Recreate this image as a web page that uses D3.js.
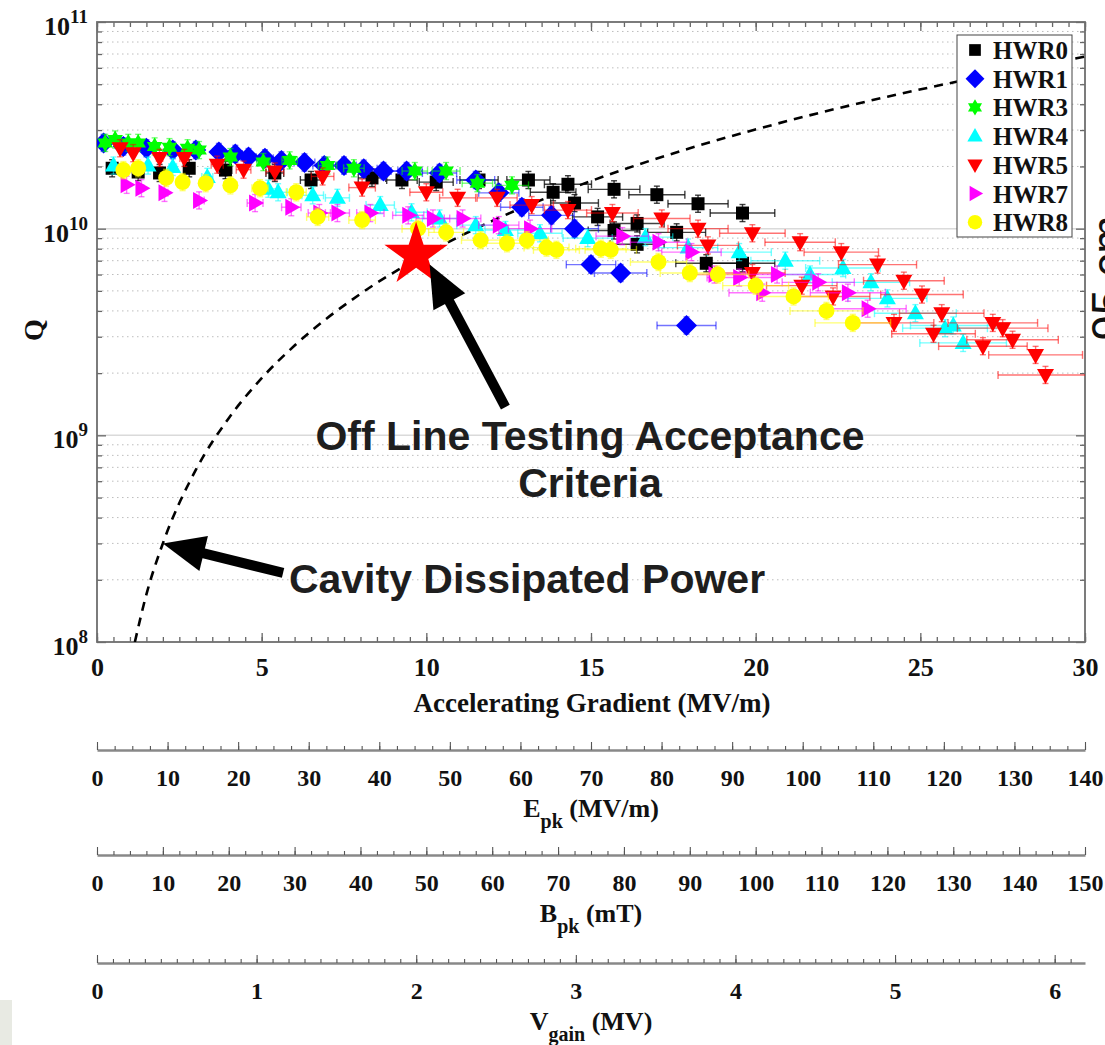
<!DOCTYPE html>
<html><head><meta charset="utf-8">
<script src="https://cdn.jsdelivr.net/npm/d3@7"></script>
<style>body{margin:0;background:#fff}svg{display:block}</style>
</head><body><svg id="c" width="1105" height="1045"></svg>
<script>
// ---------------- DATA ----------------
const seriesNames  = ["HWR0","HWR1","HWR3","HWR4","HWR5","HWR7","HWR8"];
const seriesColors = ["#000000","#0000ff","#00ff00","#00ffff","#ff0000","#ff00ff","#ffff00"];
const seriesShapes = ["square","diamond","hexagram","triUp","triDown","triRight","circle"];

const hwr0E = [0.46,1.25,1.9,2.8,3.9,5.4,6.5,8.35,9.26,10.3,11.6,13.1,13.85,14.3,14.5,15.2,15.7,15.7,16.4,16.4,17.0,17.6,18.25,18.5,19.6,19.6];
const hwr0Q = [1.96e10,1.88e10,1.86e10,1.96e10,1.92e10,1.86e10,1.72e10,1.76e10,1.72e10,1.68e10,1.72e10,1.72e10,1.5e10,1.64e10,1.33e10,1.14e10,1.55e10,9.8e9,1.06e10,8.4e9,1.46e10,9.6e9,1.32e10,6.8e9,1.19e10,6.8e9];

const hwr1E = [0.2,0.8,1.5,2.3,3.0,3.7,4.2,4.6,5.1,5.6,6.3,6.9,7.5,8.1,8.7,9.4,10.4,11.5,12.2,12.9,13.8,14.5,15.0,15.9,17.9];
const hwr1Q = [2.6e10,2.5e10,2.45e10,2.4e10,2.4e10,2.35e10,2.3e10,2.22e10,2.19e10,2.14e10,2.09e10,2.02e10,2.02e10,1.95e10,1.9e10,1.9e10,1.86e10,1.72e10,1.49e10,1.27e10,1.16e10,1.0e10,6.7e9,6.1e9,3.4e9];

const hwr3E = [0.25,0.55,0.95,1.25,1.75,2.2,2.75,3.1,4.05,5.05,5.85,7.0,7.8,9.65,10.6,11.55,12.6];
const hwr3Q = [2.6e10,2.7e10,2.6e10,2.6e10,2.5e10,2.48e10,2.45e10,2.4e10,2.22e10,2.1e10,2.14e10,2.02e10,1.96e10,1.9e10,1.9e10,1.66e10,1.62e10];

const hwr4E = [0.5,1.55,2.3,3.35,5.2,5.5,6.55,7.3,8.6,9.55,10.4,11.5,12.4,13.45,14.9,16.65,17.95,19.5,20.9,21.65,22.65,23.5,24.0,24.85,25.75,26.0,26.3];
const hwr4Q = [2.02e10,2.02e10,1.99e10,1.78e10,1.56e10,1.5e10,1.45e10,1.41e10,1.3e10,1.2e10,1.12e10,1.04e10,9.85e9,9.5e9,9.0e9,9.1e9,8.1e9,7.7e9,7.0e9,6.0e9,6.45e9,5.5e9,4.6e9,3.9e9,3.3e9,3.4e9,2.8e9];

const hwr5E = [0.7,1.1,1.9,2.65,3.65,4.45,5.4,6.85,8.05,10.0,10.95,12.15,13.2,14.3,15.65,17.15,18.25,18.55,19.9,19.9,21.35,21.4,22.35,22.6,23.7,24.2,24.5,25.05,25.4,25.65,26.9,27.2,27.5,27.8,28.5,28.8];
const hwr5Q = [2.45e10,2.32e10,2.2e10,2.2e10,2.04e10,1.93e10,1.89e10,1.79e10,1.58e10,1.5e10,1.41e10,1.41e10,1.3e10,1.23e10,1.19e10,1.12e10,1.0e10,8.3e9,9.5e9,6.1e9,8.6e9,5.3e9,4.7e9,7.7e9,6.7e9,3.5e9,5.6e9,4.8e9,3.1e9,3.9e9,2.7e9,3.5e9,3.3e9,2.9e9,2.45e9,1.96e9];

const hwr7E = [0.9,1.35,2.05,3.1,4.8,5.9,6.75,7.3,8.3,9.45,10.2,11.1,12.2,13.15,15.95,17.05,18.05,18.75,19.5,20.2,20.65,21.9,22.8,23.4];
const hwr7Q = [1.63e10,1.57e10,1.49e10,1.37e10,1.33e10,1.27e10,1.19e10,1.19e10,1.19e10,1.16e10,1.12e10,1.12e10,1.04e10,1.0e10,9.2e9,8.6e9,7.7e9,6.0e9,5.8e9,4.9e9,6.0e9,5.5e9,4.9e9,4.1e9];

const hwr8E = [0.8,1.25,2.1,2.6,3.3,4.05,4.95,6.05,6.7,8.05,9.75,10.6,11.65,12.45,13.05,13.65,13.95,15.3,15.6,17.05,18.0,18.85,20.0,21.15,22.15,22.95];
const hwr8Q = [1.92e10,1.96e10,1.76e10,1.68e10,1.66e10,1.62e10,1.57e10,1.5e10,1.14e10,1.1e10,1.0e10,9.6e9,8.8e9,8.5e9,8.8e9,8.1e9,7.9e9,8.0e9,7.9e9,6.9e9,6.1e9,6.0e9,5.3e9,4.7e9,4.0e9,3.5e9];

const seriesE = [hwr0E,hwr1E,hwr3E,hwr4E,hwr5E,hwr7E,hwr8E];
const seriesQ = [hwr0Q,hwr1Q,hwr3Q,hwr4Q,hwr5Q,hwr7Q,hwr8Q];
const xErrFrac = [0.05,0.05,0.04,0.05,0.05,0.05,0.05];
const yErrFrac = [0.10,0.10,0.10,0.10,0.10,0.10,0.10];

// cavity dissipated power curve
const powerE = [1.15,1.5,2,3,4,5,6,8,10,12,15,18,21,24,27,30];
const powerQ = [1.0e8,1.7e8,3.0e8,6.8e8,1.21e9,1.89e9,2.72e9,4.84e9,7.56e9,1.09e10,1.7e10,2.45e10,3.33e10,4.35e10,5.5e10,6.8e10];

// acceptance criteria star
const starE = [9.69];
const starQ = [7.45e9];

// axis ticks
const xMajorTicks = [0,5,10,15,20,25,30];
const yMajorTicks = [1e8,1e9,1e10,1e11];
const yMajorExp   = ["8","9","10","11"];
const epkTicks  = [0,10,20,30,40,50,60,70,80,90,100,110,120,130,140];
const bpkTicks  = [0,10,20,30,40,50,60,70,80,90,100,110,120,130,140,150];
const vgainTicks = [0,1,2,3,4,5,6];
const xDomain = [0,30], yDomain = [1e8,1e11];
const epkDomain = [0,140], bpkDomain = [0,150], vgainDomain = [0,6.19];

// ---------------- DRAW ----------------
const svg = d3.select("#c");
const SERIF = "'Liberation Serif','Times New Roman',serif";
const SANS = "'Liberation Sans',Arial,sans-serif";
const P = {l:97, r:1085, t:22, b:642};
const x = d3.scaleLinear().domain(xDomain).range([P.l,P.r]);
const y = d3.scaleLog().domain(yDomain).range([P.b,P.t]);

svg.append("rect").attr("x",0).attr("y",1000).attr("width",12).attr("height",45).attr("fill","#e8eae3");

// grid
const yMinor = [];
[1e8,1e9,1e10].forEach(d=>{for(let m=2;m<=9;m++) yMinor.push(m*d);});
const grid = svg.append("g");
grid.selectAll("line.mi").data(yMinor).join("line").attr("class","mi")
  .attr("x1",P.l).attr("x2",P.r).attr("y1",d=>y(d)).attr("y2",d=>y(d))
  .attr("stroke","#bdbdbd").attr("stroke-width",1).attr("stroke-dasharray","1.5,3.5");
grid.selectAll("line.ma").data([1e9,1e10]).join("line").attr("class","ma")
  .attr("x1",P.l).attr("x2",P.r).attr("y1",d=>y(d)).attr("y2",d=>y(d))
  .attr("stroke","#dadada").attr("stroke-width",1.5);

// ticks
function tickG(tr, axisFn, sc, vals, size){
  const g = svg.append("g").attr("transform",tr)
    .call(axisFn(sc).tickValues(vals).tickSizeInner(size).tickSizeOuter(0).tickFormat(""));
  g.select(".domain").remove();
  g.selectAll(".tick line").attr("stroke","#666").attr("stroke-width",1.3);
  return g;
}
const xMinor = d3.range(0,30.01,0.5);
tickG(`translate(0,${P.b})`, d3.axisBottom, x, xMinor, -5);
tickG(`translate(0,${P.b})`, d3.axisBottom, x, xMajorTicks, -9);
tickG(`translate(0,${P.t})`, d3.axisTop, x, xMinor, -5);
tickG(`translate(0,${P.t})`, d3.axisTop, x, xMajorTicks, -9);
tickG(`translate(${P.l},0)`, d3.axisLeft, y, yMinor, -5);
tickG(`translate(${P.l},0)`, d3.axisLeft, y, yMajorTicks, -9);
tickG(`translate(${P.r},0)`, d3.axisRight, y, yMinor, -5);
tickG(`translate(${P.r},0)`, d3.axisRight, y, yMajorTicks, -9);

// frame
svg.append("rect").attr("x",P.l).attr("y",P.t).attr("width",P.r-P.l).attr("height",P.b-P.t)
  .attr("fill","none").attr("stroke","#6e6e6e").attr("stroke-width",1.8);

// x tick labels
const xl = svg.append("g").attr("transform",`translate(0,${P.b})`)
  .call(d3.axisBottom(x).tickValues(xMajorTicks).tickSize(0).tickPadding(16).tickFormat(d3.format("d")));
xl.select(".domain").remove();
xl.selectAll("text").attr("font-family",SERIF).attr("font-weight","bold").attr("font-size",26).attr("fill","#111");

// y tick labels
const yl = svg.append("g");
yMajorTicks.forEach((v,i)=>{
  const t = yl.append("text").attr("x",88).attr("y",y(v)+13).attr("text-anchor","end")
    .attr("font-family",SERIF).attr("font-weight","bold").attr("font-size",26).attr("fill","#111");
  t.append("tspan").text("10");
  t.append("tspan").attr("dy",-12).attr("font-size",19).text(yMajorExp[i]);
});

// axis titles
svg.append("text").attr("transform","translate(43,330) rotate(-90)").attr("text-anchor","middle")
  .attr("font-family",SERIF).attr("font-weight","bold").attr("font-size",28).attr("fill","#111").text("Q");
svg.append("text").attr("x",592).attr("y",712).attr("text-anchor","middle")
  .attr("font-family",SERIF).attr("font-weight","bold").attr("font-size",27).attr("fill","#111")
  .text("Accelerating Gradient (MV/m)");

// clip
svg.append("defs").append("clipPath").attr("id","plotclip").append("rect")
  .attr("x",P.l).attr("y",P.t).attr("width",P.r-P.l).attr("height",P.b-P.t);
const plotG = svg.append("g").attr("clip-path","url(#plotclip)");

// dashed power curve
plotG.append("path").datum(powerE.map((e,i)=>[e,powerQ[i]]))
  .attr("d", d3.line().x(d=>x(d[0])).y(d=>y(d[1])).curve(d3.curveMonotoneX))
  .attr("fill","none").attr("stroke","#000").attr("stroke-width",2.6).attr("stroke-dasharray","9,7");

// marker shapes
const shapePaths = {
  square:   "M-6.5,-6.5H6.5V6.5H-6.5Z",
  diamond:  "M0,-10.5L10.5,0L0,10.5L-10.5,0Z",
  hexagram: (()=>{const r=9,pts=[];for(let k=0;k<12;k++){const a=-Math.PI/2+k*Math.PI/6;const rr=k%2?r*0.58:r;pts.push([rr*Math.cos(a),rr*Math.sin(a)]);}return "M"+pts.map(p=>p[0].toFixed(2)+","+p[1].toFixed(2)).join("L")+"Z";})(),
  triUp:    "M-8.5,6L8.5,6L0,-9Z",
  triDown:  "M-8.5,-6L8.5,-6L0,9Z",
  triRight: "M-6,-8.5L9,0L-6,8.5Z",
  circle:   "M8,0A8,8 0 1,1 -8,0A8,8 0 1,1 8,0Z"
};

// series
seriesNames.forEach((name,si)=>{
  const col = seriesColors[si];
  const pts = seriesE[si].map((e,i)=>({e, q:seriesQ[si][i]}));
  const g = plotG.append("g");
  const eb = g.append("g").attr("stroke",col).attr("stroke-opacity",si===0?0.75:0.55).attr("stroke-width",1.4);
  pts.forEach(p=>{
    const dx = p.e*xErrFrac[si], x0 = x(Math.max(0,p.e-dx)), x1 = x(p.e+dx), yy = y(p.q);
    const q0 = y(p.q/(1+yErrFrac[si])), q1 = y(p.q*(1+yErrFrac[si])), xx = x(p.e);
    eb.append("line").attr("x1",x0).attr("x2",x1).attr("y1",yy).attr("y2",yy);
    eb.append("line").attr("x1",x0).attr("x2",x0).attr("y1",yy-4).attr("y2",yy+4);
    eb.append("line").attr("x1",x1).attr("x2",x1).attr("y1",yy-4).attr("y2",yy+4);
    eb.append("line").attr("x1",xx).attr("x2",xx).attr("y1",q0).attr("y2",q1);
    eb.append("line").attr("x1",xx-3).attr("x2",xx+3).attr("y1",q0).attr("y2",q0);
    eb.append("line").attr("x1",xx-3).attr("x2",xx+3).attr("y1",q1).attr("y2",q1);
  });
  g.selectAll("path.m").data(pts).join("path").attr("class","m")
    .attr("transform",d=>`translate(${x(d.e)},${y(d.q)})`)
    .attr("d",shapePaths[seriesShapes[si]]).attr("fill",col).attr("stroke","none");
});

// star
plotG.selectAll("path.star").data(starE.map((e,i)=>[e,starQ[i]])).join("path").attr("class","star")
  .attr("transform",d=>`translate(${x(d[0])},${y(d[1])})`)
  .attr("d", d3.symbol(d3.symbolStar, 1250)()).attr("fill","#ff0000");

// annotations: arrows (in data coordinates)
const arrowFrom = [[12.4,1.37e9],[5.65,2.16e8]];
const arrowTo   = [[10.1,6.7e9],[2.0,3.0e8]];
const ann = svg.append("g");
arrowFrom.forEach((a,i)=>{
  const x0=x(a[0]), y0=y(a[1]), x1=x(arrowTo[i][0]), y1=y(arrowTo[i][1]);
  const dx=x1-x0, dy=y1-y0, L=Math.hypot(dx,dy), ux=dx/L, uy=dy/L;
  const hl=42, hw=18;
  const bx=x1-ux*hl, by=y1-uy*hl;
  ann.append("line").attr("x1",x0).attr("y1",y0).attr("x2",bx+ux*4).attr("y2",by+uy*4)
    .attr("stroke","#000").attr("stroke-width",10);
  ann.append("path").attr("d",`M${x1},${y1}L${bx-uy*hw},${by+ux*hw}L${bx+uy*hw},${by-ux*hw}Z`).attr("fill","#000");
});
const annText = [
  {t:"Off Line Testing Acceptance", x:590, y:450},
  {t:"Criteria", x:590, y:497},
  {t:"Cavity Dissipated Power", x:527, y:593}
];
ann.selectAll("text").data(annText).join("text").attr("x",d=>d.x).attr("y",d=>d.y)
  .attr("text-anchor","middle").attr("font-family",SANS).attr("font-weight","bold")
  .attr("font-size",41).attr("fill","#1e1e1e").text(d=>d.t);

// legend
const lg = svg.append("g");
lg.append("rect").attr("x",957).attr("y",35).attr("width",115).attr("height",202)
  .attr("fill","#fff").attr("stroke","#444").attr("stroke-width",1);
seriesNames.forEach((n,i)=>{
  const yy = 50 + i*28.7;
  lg.append("path").attr("transform",`translate(975,${yy}) scale(0.9)`).attr("d",shapePaths[seriesShapes[i]]).attr("fill",seriesColors[i]);
  lg.append("text").attr("x",993).attr("y",yy+9).attr("font-family",SERIF).attr("font-weight","bold")
    .attr("font-size",25).attr("fill","#111").text(n);
});

// secondary axes
function secAxis(lineY, dom, majors, minorStep, title, sub, rest){
  const sc = d3.scaleLinear().domain(dom).range([P.l,P.r]);
  const minors = d3.range(dom[0], dom[1]+1e-9, minorStep);
  const gm = svg.append("g").attr("transform",`translate(0,${lineY})`)
    .call(d3.axisBottom(sc).tickValues(minors).tickSizeInner(-4).tickSizeOuter(0).tickFormat(""));
  gm.select(".domain").attr("stroke","#888").attr("stroke-width",2.4);
  gm.selectAll(".tick line").attr("stroke","#555").attr("stroke-width",1.1);
  const g = svg.append("g").attr("transform",`translate(0,${lineY})`)
    .call(d3.axisBottom(sc).tickValues(majors).tickSizeInner(-8).tickSizeOuter(0).tickPadding(19).tickFormat(d3.format("d")));
  g.select(".domain").remove();
  g.selectAll(".tick line").attr("stroke","#555").attr("stroke-width",1.1);
  g.selectAll("text").attr("font-family",SERIF).attr("font-weight","bold").attr("font-size",24).attr("fill","#111");
  const t = svg.append("text").attr("x",(P.l+P.r)/2).attr("y",lineY+67).attr("text-anchor","middle")
    .attr("font-family",SERIF).attr("font-weight","bold").attr("font-size",26).attr("fill","#111");
  t.append("tspan").text(title);
  t.append("tspan").attr("dy",11).attr("font-size",20).text(sub);
  t.append("tspan").attr("dy",-11).text(rest);
}
secAxis(750, epkDomain, epkTicks, 2.5, "E", "pk", " (MV/m)");
secAxis(855, bpkDomain, bpkTicks, 2.5, "B", "pk", " (mT)");
secAxis(963, vgainDomain, vgainTicks, 0.1, "V", "gain", " (MV)");

// cut-off text at right edge (partially outside the frame, as in the source)
svg.append("text").attr("transform","translate(1124,278) rotate(-90)").attr("text-anchor","middle")
  .attr("font-family",SANS).attr("font-size",46).attr("fill","#111").text("95 cm");
</script></body></html>
